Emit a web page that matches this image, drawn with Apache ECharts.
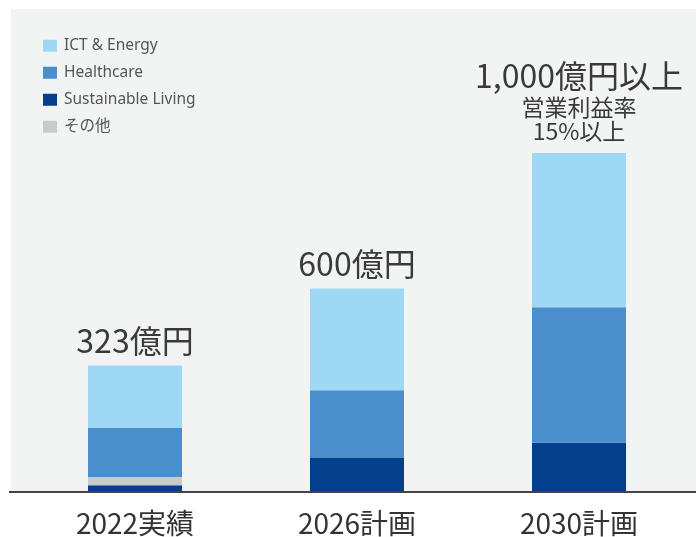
<!DOCTYPE html>
<html>
<head>
<meta charset="utf-8">
<script src="https://cdn.jsdelivr.net/npm/echarts@6/dist/echarts.min.js"></script>
<style>html,body{margin:0;padding:0;background:#fff}#c{width:696px;height:537px}</style>
</head>
<body>
<div id="c"></div>
<script>
var categories = ['2022実績', '2026計画', '2030計画'];
var sustainable = [20, 100, 145];
var other = [24, 0, 0];
var healthcare = [145, 200, 400];
var ict = [184, 300, 455];
var topLabels = ['323億円', '600億円', '1,000億円以上\n営業利益率\n15%以上'];
var seriesNames = ['ICT & Energy', 'Healthcare', 'Sustainable Living', 'その他'];

var FONT = '"Noto Sans CJK JP", "Noto Sans", sans-serif';
var LFONT = '"Noto Sans", "Noto Sans CJK JP", sans-serif';
var chart = echarts.init(document.getElementById('c'));

var ictData = ict.map(function (v, i) {
  var lbl;
  if (i === 2) {
    lbl = {
      show: true, position: 'top', distance: 10,
      formatter: '{a|1,000億円以上}\n{b|営業利益率}\n{b|15%以上}',
      rich: {
        a: { fontSize: 32, lineHeight: 38, color: '#3a3a3a', fontFamily: FONT },
        b: { fontSize: 23, lineHeight: 24, color: '#3a3a3a', fontFamily: FONT }
      }
    };
  } else {
    lbl = { show: true, position: 'top', distance: 5, formatter: topLabels[i],
      fontSize: 32, lineHeight: 40, color: '#3a3a3a', fontFamily: FONT };
  }
  return { value: v, label: lbl };
});

chart.setOption({
  backgroundColor: '#fff',
  animation: false,
  graphic: [
    { type: 'rect', z: -10, shape: { x: 11, y: 9, width: 685, height: 483 }, style: { fill: '#f2f3f3' } },
    { type: 'line', z: 10, shape: { x1: 9, y1: 492, x2: 696, y2: 492 }, style: { stroke: '#444', lineWidth: 2 } }
  ],
  legend: {
    orient: 'vertical', left: 38, top: 33,
    itemWidth: 14, itemHeight: 12, itemGap: 11.5,
    data: seriesNames,
    textStyle: { fontSize: 15.5, lineHeight: 14, color: '#555', fontFamily: LFONT, padding: [0, 0, 0, 2] },
    icon: 'rect'
  },
  grid: { left: 24, right: 6, top: 153, bottom: 45 },
  xAxis: {
    type: 'category', data: categories,
    axisLine: { show: false }, axisTick: { show: false },
    axisLabel: { fontSize: 28, color: '#333', margin: 17, fontFamily: FONT }
  },
  yAxis: { type: 'value', min: 0, max: 1000, show: false, splitLine: { show: false } },
  series: [
    { name: 'Sustainable Living', type: 'bar', stack: 's', barWidth: 94, data: sustainable, itemStyle: { color: '#033f8a' } },
    { name: 'その他', type: 'bar', stack: 's', barWidth: 94, data: other, itemStyle: { color: '#c9cbcb' } },
    { name: 'Healthcare', type: 'bar', stack: 's', barWidth: 94, data: healthcare, itemStyle: { color: '#4a8ecb' } },
    { name: 'ICT & Energy', type: 'bar', stack: 's', barWidth: 94, data: ictData, itemStyle: { color: '#9fd8f5' } }
  ]
});
</script>
</body>
</html>
